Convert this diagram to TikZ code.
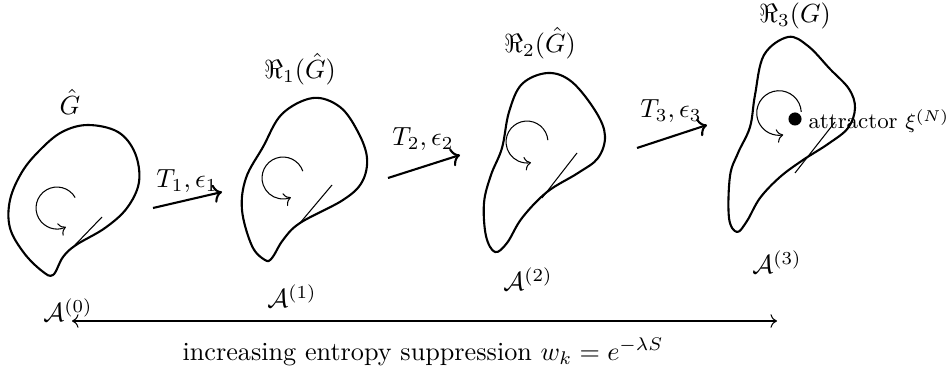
\documentclass[tikz,border=0pt]{standalone}
\usetikzlibrary{arrows.meta}
\begin{document}
\begin{tikzpicture}[x=0.3817pt,y=-0.3817pt,
  blob/.style={thick,line join=round},
  tangline/.style={thin},
  spin/.style={thin,->},
  tmap/.style={thick,->},
  lbl/.style={inner sep=1pt}]
\useasboundingbox (0,0) rectangle (949,376);
% blobs
\draw[blob] plot[smooth cycle,tension=0.6] coordinates {(88,125) (118,132) (135,153) (139,182) (127,208) (105,228) (76,245) (63,257) (53,275) (42,271) (24,253) (10,228) (10,200) (22,172) (40,150) (62,132)};
\draw[blob] plot[smooth cycle,tension=0.6] coordinates {(313,98) (340,107) (358,132) (367,158) (362,182) (343,200) (300,223) (283,240) (272,258) (265,260) (252,246) (242,210) (246,178) (263,147) (282,114)};
\draw[blob] plot[smooth cycle,tension=0.6] coordinates {(548,73) (572,82) (596,112) (605,136) (598,158) (578,173) (547,192) (522,218) (507,243) (495,252) (486,236) (484,203) (491,175) (502,148) (509,112) (522,84)};
\draw[blob] plot[smooth cycle,tension=0.6] coordinates {(788,37) (808,46) (830,69) (849,89) (855,108) (848,128) (828,144) (803,160) (780,177) (760,198) (747,221) (737,232) (729,218) (730,176) (738,153) (750,127) (755,95) (764,55)};
% tangent lines
\coordinate (t0a) at (75,245); \coordinate (t0b) at (102,217);
\coordinate (t1a) at (300,223); \coordinate (t1b) at (332,185);
\coordinate (t2a) at (542,198); \coordinate (t2b) at (577,153);
\coordinate (t3a) at (795,173); \coordinate (t3b) at (835,122);
\draw[tangline] (t0a) -- (t0b);
\draw[tangline] (t1a) -- (t1b);
\draw[tangline] (t2a) -- (t2b);
\draw[tangline] (t3a) -- (t3b);
% spin arrows
\coordinate (c0) at (57,208);
\coordinate (c1) at (283,178);
\coordinate (c2) at (527,142);
\coordinate (c3) at (779,113);
\draw[spin] (c0) ++(30:8pt) arc[start angle=30,end angle=295,radius=8pt];
\draw[spin] (c1) ++(19:8pt) arc[start angle=19,end angle=292,radius=8pt];
\draw[spin] (c2) ++(5:8pt) arc[start angle=5,end angle=281,radius=8pt];
\draw[spin] (c3) ++(3:8.5pt) arc[start angle=3,end angle=281,radius=8.5pt];
% attractor
\coordinate (dot) at (795,119);
\fill (dot) circle[radius=2.5pt];
\node[anchor=west,inner sep=0pt,font=\fontsize{8.5pt}{10pt}\selectfont] (attr) at (808,121) {attractor $\xi^{(N)}$};
% transformation arrows
\coordinate (a1s) at (153,208); \coordinate (a1e) at (222,192);
\coordinate (a2s) at (388,178); \coordinate (a2e) at (460,155);
\coordinate (a3s) at (637,148); \coordinate (a3e) at (707,125);
\draw[tmap] (a1s) -- (a1e);
\draw[tmap] (a2s) -- (a2e);
\draw[tmap] (a3s) -- (a3e);
\node[lbl] (T1) at (187,181) {$T_1,\epsilon_1$};
\node[lbl] (T2) at (423,139) {$T_2,\epsilon_2$};
\node[lbl] (T3) at (671,111) {$T_3,\epsilon_3$};
% labels
\node[lbl] (G0) at (70,102) {$\hat{G}$};
\node[lbl] (G1) at (300,69) {$\Re_1(\hat{G})$};
\node[lbl] (G2) at (540,43) {$\Re_2(\hat{G})$};
\node[inner sep=0pt] (G3) at (795,16) {$\Re_3(G)$};
\node[lbl] (A0) at (68,310) {$\mathcal{A}^{(0)}$};
\node[lbl] (A1) at (292,296) {$\mathcal{A}^{(1)}$};
\node[lbl] (A2) at (528,279) {$\mathcal{A}^{(2)}$};
\node[lbl] (A3) at (777,262) {$\mathcal{A}^{(3)}$};
% bottom axis
\coordinate (axl) at (72,321); \coordinate (axr) at (777,321);
\draw[thin,<->] (axl) -- (axr);
\node[lbl] (cap) at (423,352) {increasing entropy suppression $w_k = e^{-\lambda S}$};
\end{tikzpicture}
\end{document}
